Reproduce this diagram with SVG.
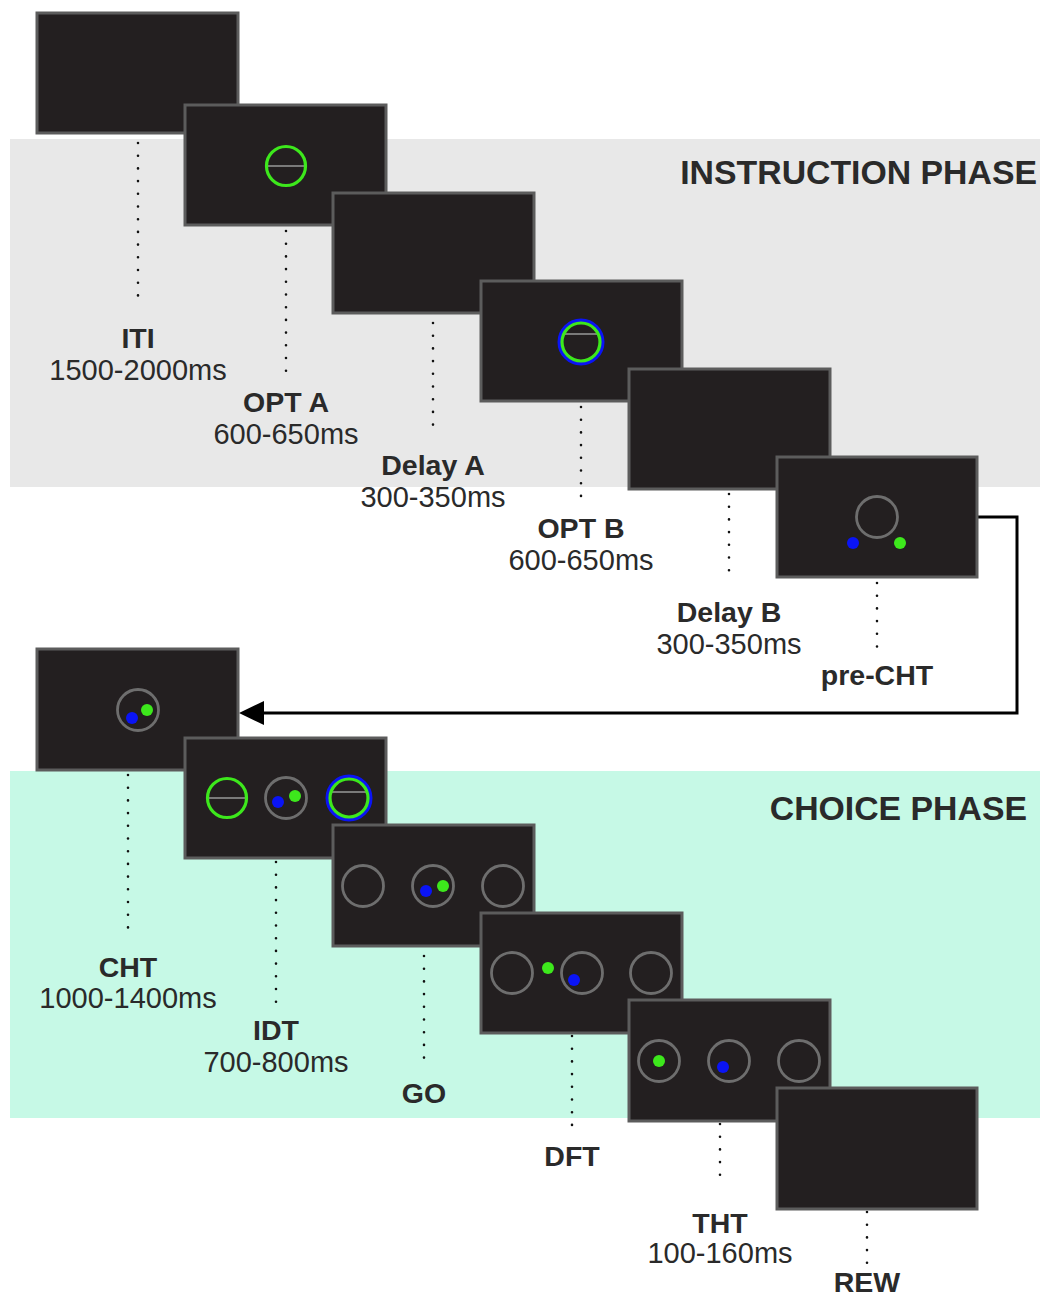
<svg xmlns="http://www.w3.org/2000/svg" width="1040" height="1296" viewBox="0 0 1040 1296">
<style>
.scr{fill:#231f20;stroke:#5c5c5c;stroke-width:3}
.g{fill:none;stroke:#6e6e6e;stroke-width:2.8}
.gr{fill:none;stroke:#3de81c;stroke-width:3.2}
.bl{fill:none;stroke:#0a14f5;stroke-width:4}
.ln{stroke:#7a7a7a;stroke-width:2}
.dg{fill:#3de81c}
.db{fill:#0a14f5}
.dot{stroke:#111;stroke-width:2.6;stroke-linecap:round;stroke-dasharray:0 12.7;fill:none}
.b{font-family:"Liberation Sans",Arial,sans-serif;font-weight:bold;font-size:28.5px;fill:#2a2a2a;text-anchor:middle}
.r{font-family:"Liberation Sans",Arial,sans-serif;font-size:29px;fill:#2a2a2a;text-anchor:middle}
.ph{font-family:"Liberation Sans",Arial,sans-serif;font-weight:bold;font-size:33.8px;fill:#2a2a2a;text-anchor:end}
</style>
<rect width="1040" height="1296" fill="#fff"/>
<rect id="instruction-band" x="10" y="139" width="1030" height="348" fill="#e8e8e8"/>
<rect id="choice-band" x="10" y="771" width="1030" height="347" fill="#c6f9e6"/>
<text class="ph" x="1037" y="184">INSTRUCTION PHASE</text>
<text class="ph" x="1027" y="820">CHOICE PHASE</text>

<g id="connectors">
<line class="dot" x1="138" y1="143" x2="138" y2="298"/>
<line class="dot" x1="286" y1="231" x2="286" y2="383"/>
<line class="dot" x1="433" y1="323" x2="433" y2="428"/>
<line class="dot" x1="581" y1="407" x2="581" y2="508"/>
<line class="dot" x1="729" y1="494" x2="729" y2="580"/>
<line class="dot" x1="877" y1="583" x2="877" y2="648"/>
<line class="dot" x1="128" y1="775" x2="128" y2="928"/>
<line class="dot" x1="276" y1="862" x2="276" y2="1008"/>
<line class="dot" x1="424" y1="956" x2="424" y2="1058"/>
<line class="dot" x1="572" y1="1036" x2="572" y2="1133"/>
<line class="dot" x1="720" y1="1124" x2="720" y2="1183"/>
<line class="dot" x1="867" y1="1212" x2="867" y2="1264"/>
<polyline points="978,517 1017,517 1017,713 262,713" fill="none" stroke="#000" stroke-width="3"/>
<path d="M239,713 L264,701 L264,725 z" fill="#000"/>
</g>

<g id="s1"><rect class="scr" x="37" y="13" width="201" height="120"/></g>
<g id="s2"><rect class="scr" x="185" y="105" width="201" height="120"/>
<line class="ln" x1="266" y1="166" x2="306" y2="166"/><circle class="gr" cx="286" cy="166" r="19.5"/></g>
<g id="s3"><rect class="scr" x="333" y="193" width="201" height="120"/></g>
<g id="s4"><rect class="scr" x="481" y="281" width="201" height="120"/>
<circle class="bl" cx="581" cy="342" r="21.5"/><line class="ln" x1="564" y1="334" x2="598" y2="334"/><circle class="gr" cx="581" cy="342" r="19"/></g>
<g id="s5"><rect class="scr" x="629" y="369" width="201" height="120"/></g>
<g id="s6"><rect class="scr" x="777" y="457" width="200" height="120"/>
<circle class="g" cx="877" cy="517" r="20.5"/><circle class="db" cx="853" cy="543" r="6"/><circle class="dg" cx="900" cy="543" r="6"/></g>

<g id="s7"><rect class="scr" x="37" y="649" width="201" height="121"/>
<circle class="g" cx="138" cy="710" r="20.5"/><circle class="db" cx="132" cy="718" r="6"/><circle class="dg" cx="147" cy="710" r="6"/></g>
<g id="s8"><rect class="scr" x="185" y="738" width="201" height="120"/>
<line class="ln" x1="208" y1="798" x2="246" y2="798"/><circle class="gr" cx="227" cy="798" r="19.5"/>
<circle class="g" cx="286" cy="798" r="20.5"/><circle class="db" cx="278" cy="802" r="6"/><circle class="dg" cx="295" cy="796" r="6"/>
<circle class="bl" cx="349" cy="798" r="21.5"/><line class="ln" x1="331" y1="792" x2="367" y2="792"/><circle class="gr" cx="349" cy="798" r="19"/></g>
<g id="s9"><rect class="scr" x="333" y="825" width="201" height="121"/>
<circle class="g" cx="363" cy="886" r="20.5"/><circle class="g" cx="433" cy="886" r="20.5"/><circle class="g" cx="503" cy="886" r="20.5"/>
<circle class="db" cx="426" cy="891" r="6"/><circle class="dg" cx="443" cy="886" r="6"/></g>
<g id="s10"><rect class="scr" x="481" y="913" width="201" height="120"/>
<circle class="g" cx="512" cy="973" r="20.5"/><circle class="g" cx="582" cy="973" r="20.5"/><circle class="g" cx="651" cy="973" r="20.5"/>
<circle class="dg" cx="548" cy="968" r="6"/><circle class="db" cx="574" cy="980" r="6"/></g>
<g id="s11"><rect class="scr" x="629" y="1000" width="201" height="121"/>
<circle class="g" cx="659" cy="1061" r="20.5"/><circle class="g" cx="729" cy="1061" r="20.5"/><circle class="g" cx="799" cy="1061" r="20.5"/>
<circle class="dg" cx="659" cy="1061" r="6"/><circle class="db" cx="723" cy="1067" r="6"/></g>
<g id="s12"><rect class="scr" x="777" y="1088" width="200" height="121"/></g>

<g id="labels">
<text class="b" x="138" y="348">ITI</text><text class="r" x="138" y="380">1500-2000ms</text>
<text class="b" x="286" y="412">OPT A</text><text class="r" x="286" y="444">600-650ms</text>
<text class="b" x="433" y="475">Delay A</text><text class="r" x="433" y="507">300-350ms</text>
<text class="b" x="581" y="538">OPT B</text><text class="r" x="581" y="570">600-650ms</text>
<text class="b" x="729" y="622">Delay B</text><text class="r" x="729" y="654">300-350ms</text>
<text class="b" x="877" y="685">pre-CHT</text>
<text class="b" x="128" y="977">CHT</text><text class="r" x="128" y="1008">1000-1400ms</text>
<text class="b" x="276" y="1040">IDT</text><text class="r" x="276" y="1072">700-800ms</text>
<text class="b" x="424" y="1103">GO</text>
<text class="b" x="572" y="1166">DFT</text>
<text class="b" x="720" y="1233">THT</text><text class="r" x="720" y="1263">100-160ms</text>
<text class="b" x="867" y="1292">REW</text>
</g>
</svg>
